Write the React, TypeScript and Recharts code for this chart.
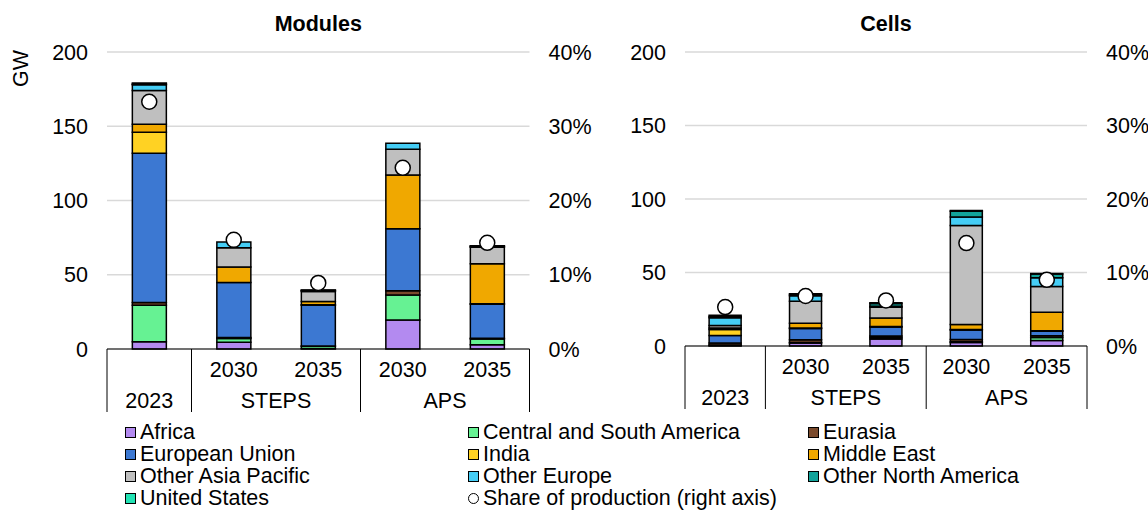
import React from 'react';
import { ComposedChart, Bar, Line, XAxis, YAxis, CartesianGrid } from 'recharts';

const periodLabels = ['2023', '2030', '2035', '2030', '2035'];
const scenarioLabels = ['', 'STEPS', 'STEPS', 'APS', 'APS'];

const regionKeys = ['africa', 'csa', 'eurasia', 'eu', 'india', 'me', 'oap', 'oe', 'ona', 'us'];
const regionNames = [
  'Africa',
  'Central and South America',
  'Eurasia',
  'European Union',
  'India',
  'Middle East',
  'Other Asia Pacific',
  'Other Europe',
  'Other North America',
  'United States',
];
const regionColors = [
  '#B38AF0',
  '#66F293',
  '#7A4A2C',
  '#3C78D2',
  '#FFD223',
  '#F0A800',
  '#BFBFBF',
  '#45CDF5',
  '#12A39A',
  '#22E3B4',
];
const shareName = 'Share of production (right axis)';

// Modules (GW)
const africaM = [4.8, 4.5, 0.3, 19.6, 2.9];
const csaM = [24.7, 2.5, 1.5, 16.7, 3.8];
const eurasiaM = [1.8, 0.8, 0.3, 2.9, 0.5];
const euM = [100.5, 37, 27.4, 41.7, 23];
const indiaM = [14.2, 0, 0.3, 0, 0.2];
const meM = [5.4, 10.5, 2.2, 36.2, 27];
const oapM = [22.7, 12.8, 6.8, 17.4, 11.2];
const oeM = [3.8, 4, 0.4, 4.1, 0.3];
const onaM = [0.6, 0, 0.3, 0, 0.4];
const usM = [0.6, 0, 0.2, 0, 0.3];
const shareM = [0.333, 0.147, 0.089, 0.244, 0.143];

// Cells (GW)
const africaC = [0.3, 2, 4.8, 2.4, 3.8];
const csaC = [0.3, 0.3, 1, 0.5, 2];
const eurasiaC = [1.5, 2, 1, 1.5, 1.2];
const euC = [5, 7.6, 6.2, 6.5, 3];
const indiaC = [4.2, 0.3, 0.3, 0.3, 0.4];
const meC = [1, 3.2, 5.8, 3.5, 12.5];
const oapC = [1.6, 15, 7.2, 67.2, 17.5];
const oeC = [5.4, 3.8, 0.8, 5.8, 6];
const onaC = [0.8, 0.8, 1.8, 3.9, 2.5];
const usC = [0.8, 0.5, 0.5, 0.5, 0.5];
const shareC = [0.053, 0.068, 0.062, 0.14, 0.09];

const gwTicks = [0, 50, 100, 150, 200];
const pctTicks = [0, 0.1, 0.2, 0.3, 0.4];

const FONT = '"Liberation Sans", Arial, sans-serif';
const FS = 21.5;

function buildRows(values: number[][], share: number[]) {
  return periodLabels.map((p, i) => {
    const row: any = { period: p, scenario: scenarioLabels[i], share: share[i] };
    regionKeys.forEach((k, j) => {
      row[k] = values[j][i];
    });
    return row;
  });
}

const moduleRows = buildRows(
  [africaM, csaM, eurasiaM, euM, indiaM, meM, oapM, oeM, onaM, usM],
  shareM
);
const cellRows = buildRows(
  [africaC, csaC, eurasiaC, euC, indiaC, meC, oapC, oeC, onaC, usC],
  shareC
);

function CategoryTick(props: any) {
  const { x, y, index, width, visibleTicksCount, payload } = props;
  const n = visibleTicksCount || periodLabels.length;
  const bw = width && n ? width / n : ((payload && payload.offset) || 0) * 2;
  const scenario = scenarioLabels[index];
  const period = periodLabels[index];
  const isGroupStart = index === 0 || scenario === '' || scenarioLabels[index - 1] !== scenario;
  const isLast = index === n - 1;
  let groupCount = 1;
  if (scenario !== '') {
    while (index + groupCount < n && scenarioLabels[index + groupCount] === scenario) groupCount++;
  }
  const lineLen = 63;
  const els: any[] = [];
  if (isGroupStart) {
    els.push(
      <line key="l" x1={x - bw / 2} x2={x - bw / 2} y1={y} y2={y + lineLen} stroke="#000" strokeWidth={1} />
    );
  }
  if (isLast) {
    els.push(
      <line key="r" x1={x + bw / 2} x2={x + bw / 2} y1={y} y2={y + lineLen} stroke="#000" strokeWidth={1} />
    );
  }
  if (scenario === '') {
    els.push(
      <text key="b" x={x} y={y + 52} textAnchor="middle" dominantBaseline="central" fill="#000" fontSize={FS} fontFamily={FONT}>
        {period}
      </text>
    );
  } else {
    els.push(
      <text key="t" x={x} y={y + 21} textAnchor="middle" dominantBaseline="central" fill="#000" fontSize={FS} fontFamily={FONT}>
        {period}
      </text>
    );
    if (isGroupStart) {
      els.push(
        <text key="g" x={x + ((groupCount - 1) * bw) / 2} y={y + 52} textAnchor="middle" dominantBaseline="central" fill="#000" fontSize={FS} fontFamily={FONT}>
          {scenario}
        </text>
      );
    }
  }
  return <g>{els}</g>;
}

function GwLabel(props: any) {
  const vb = props.viewBox || { x: 0, y: 0 };
  const cx = vb.x + 21;
  const cy = vb.y + 16.5;
  return (
    <text x={cx} y={cy} transform={`rotate(-90, ${cx}, ${cy})`} textAnchor="middle" dominantBaseline="central" fill="#000" fontSize={FS} fontFamily={FONT}>
      GW
    </text>
  );
}

type PanelProps = {
  title: string;
  rows: any[];
  left: number;
  width: number;
  height: number;
  leftAxisWidth: number;
  rightAxisWidth: number;
  showUnit: boolean;
};

function Panel({ title, rows, left, width, height, leftAxisWidth, rightAxisWidth, showUnit }: PanelProps) {
  const plotLeft = leftAxisWidth;
  const plotWidth = width - leftAxisWidth - rightAxisWidth;
  const tickStyle = { fill: '#000', fontSize: FS, fontFamily: FONT };
  return (
    <div style={{ position: 'absolute', left, top: 0, width, height }}>
      <div
        style={{
          position: 'absolute',
          left: plotLeft,
          width: plotWidth,
          top: 12,
          height: 24,
          lineHeight: '24px',
          textAlign: 'center',
          fontWeight: 'bold',
          fontSize: FS,
          fontFamily: FONT,
          color: '#000',
        }}
      >
        {title}
      </div>
      <ComposedChart
        width={width}
        height={height}
        data={rows}
        margin={{ top: 52, right: 0, bottom: 0, left: 0 }}
        barCategoryGap="30%"
      >
        <CartesianGrid yAxisId="left" vertical={false} stroke="#D9D9D9" strokeWidth={1.5} />
        <XAxis
          dataKey="period"
          xAxisId={0}
          height={65}
          interval={0}
          tickSize={0}
          tickMargin={0}
          tickLine={false}
          axisLine={{ stroke: '#000', strokeWidth: 1 }}
          tick={<CategoryTick />}
        />
        <YAxis
          yAxisId="left"
          orientation="left"
          width={leftAxisWidth}
          domain={[0, 200]}
          ticks={gwTicks}
          axisLine={false}
          tickLine={false}
          tickMargin={13}
          tick={tickStyle}
          label={showUnit ? <GwLabel /> : undefined}
        />
        <YAxis
          yAxisId="right"
          orientation="right"
          width={rightAxisWidth}
          domain={[0, 0.4]}
          ticks={pctTicks}
          axisLine={false}
          tickLine={false}
          tickMargin={13}
          tick={tickStyle}
          tickFormatter={(v: number) => `${Math.round(v * 100)}%`}
        />
        {regionKeys.map((k, j) => (
          <Bar
            key={k}
            dataKey={k}
            name={regionNames[j]}
            stackId="s"
            yAxisId="left"
            fill={regionColors[j]}
            stroke="#000"
            strokeWidth={1.5}
            isAnimationActive={false}
          />
        ))}
        <Line
          dataKey="share"
          name={shareName}
          yAxisId="right"
          stroke="none"
          activeDot={false}
          dot={{ r: 7.5, fill: '#fff', stroke: '#000', strokeWidth: 1.5 }}
          isAnimationActive={false}
        />
      </ComposedChart>
    </div>
  );
}

function Legend() {
  const items = [
    ...regionNames.map((n, i) => ({ name: n, color: regionColors[i], circle: false })),
    { name: shareName, color: '#fff', circle: true },
  ];
  return (
    <div
      style={{
        position: 'absolute',
        left: 125,
        top: 421,
        display: 'grid',
        gridTemplateColumns: '343px 340px 320px',
        fontFamily: FONT,
        fontSize: FS,
        lineHeight: '22px',
        color: '#000',
      }}
    >
      {items.map((it) => (
        <div key={it.name} style={{ display: 'flex', alignItems: 'center', whiteSpace: 'nowrap', height: 22 }}>
          <span
            style={{
              display: 'inline-block',
              width: 9,
              height: 9,
              background: it.color,
              border: '1px solid #000',
              borderRadius: it.circle ? '50%' : 0,
              marginRight: 4,
              flex: '0 0 auto',
            }}
          />
          <span>{it.name}</span>
        </div>
      ))}
    </div>
  );
}

export default function App() {
  return (
    <div
      style={{
        position: 'absolute',
        left: 0,
        top: 0,
        width: 1148,
        height: 510,
        background: '#fff',
        overflow: 'hidden',
      }}
    >
      <Panel
        title="Modules"
        rows={moduleRows}
        left={0}
        width={600}
        height={414}
        leftAxisWidth={107}
        rightAxisWidth={70.5}
        showUnit={true}
      />
      <Panel
        title="Cells"
        rows={cellRows}
        left={600}
        width={548}
        height={411}
        leftAxisWidth={85}
        rightAxisWidth={61}
        showUnit={false}
      />
      <Legend />
    </div>
  );
}
